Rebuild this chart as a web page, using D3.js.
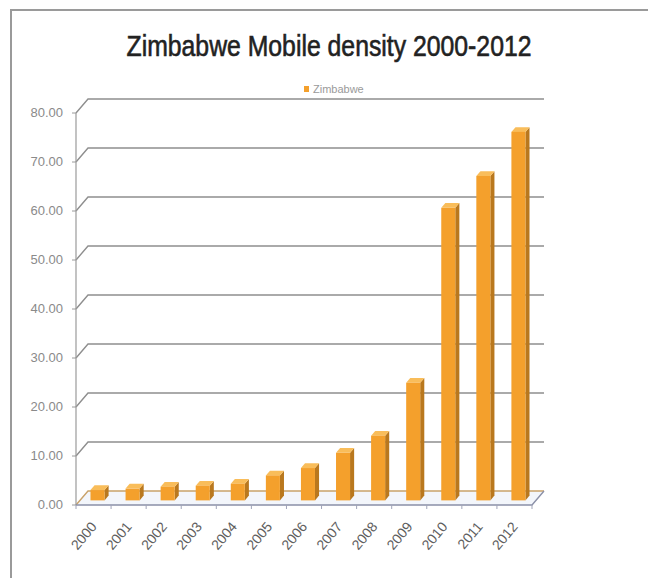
<!DOCTYPE html>
<html>
<head>
<meta charset="utf-8">
<script src="https://cdn.jsdelivr.net/npm/d3@7/dist/d3.min.js"></script>
<style>
  html, body { margin: 0; padding: 0; background: #fff; }
  svg { display: block; }
</style>
</head>
<body>
<svg id="chart" width="648" height="578"></svg>
<script>
// ---- data ----
const years = ["2000","2001","2002","2003","2004","2005","2006","2007","2008","2009","2010","2011","2012"];
const density = [2.1, 2.4, 2.8, 3.0, 3.4, 5.1, 6.6, 9.7, 13.2, 24.0, 59.7, 66.2, 75.2];
const yTicks = [0, 10, 20, 30, 40, 50, 60, 70, 80];
const seriesName = "Zimbabwe";
const titleText = "Zimbabwe Mobile density 2000-2012";

const svg = d3.select("#chart");

// frame
svg.append("path")
  .attr("d", "M11,578 L11,10 L648,10")
  .attr("fill", "none").attr("stroke", "#9a9a9a").attr("stroke-width", 2);

// 3D geometry
const DX = 12, DY = -14;      // depth offset (front -> back)
const f1 = 0.33, f2 = 0.67;   // bar depth span

const x = d3.scaleBand().domain(years).range([76, 532]).paddingInner(0.6).paddingOuter(0.3);
const y = d3.scaleLinear().domain([0, 80]).range([505, 113]);
const xL = 76, xR = 532;

// floor
svg.append("path")
  .attr("d", `M${xL},${y(0)} L${xR},${y(0)} L${xR+DX},${y(0)+DY} L${xL+DX},${y(0)+DY} Z`)
  .attr("fill", "#f3f6fb").attr("stroke", "none");

// gridlines (back wall) with diagonal on left wall
const grid = svg.append("g");
yTicks.forEach(t => {
  grid.append("path")
    .attr("d", `M${xL},${y(t)} L${xL+DX},${y(t)+DY} L${xR+DX},${y(t)+DY}`)
    .attr("fill", "none")
    .attr("stroke", t === 0 ? "#c9a26a" : "#8e8e8e")
    .attr("stroke-width", 1.4);
});

// left axis front edge
svg.append("line")
  .attr("x1", xL).attr("x2", xL).attr("y1", y(80)).attr("y2", y(0))
  .attr("stroke", "#9a9a9a").attr("stroke-width", 1.2);

// y ticks and labels
const yAxis = svg.append("g");
yTicks.forEach(t => {
  yAxis.append("line")
    .attr("x1", xL - 4).attr("x2", xL).attr("y1", y(t)).attr("y2", y(t))
    .attr("stroke", "#9a9a9a").attr("stroke-width", 1);
  yAxis.append("text")
    .attr("x", 63).attr("y", y(t) + 4)
    .attr("text-anchor", "end")
    .attr("font-family", "'Liberation Sans Narrow', 'Liberation Sans', Arial, sans-serif")
    .attr("font-size", 13)
    .attr("fill", "#8a8a8a")
    .text(d3.format(".2f")(t));
});

// bars
const cFront = "#f4a02c", cSide = "#b9781e", cTop = "#f9bd5a";
const bars = svg.append("g");
years.forEach((yr, i) => {
  const v = density[i];
  const x0 = x(yr), w = x.bandwidth();
  const ax = f1 * DX, ay = f1 * DY;   // front face offset
  const bx = f2 * DX, by = f2 * DY;   // back face offset
  const yt = y(v), yb = y(0);
  bars.append("path")
    .attr("d", `M${x0+w+ax},${yt+ay} L${x0+w+bx},${yt+by} L${x0+w+bx},${yb+by} L${x0+w+ax},${yb+ay} Z`)
    .attr("fill", cSide);
  bars.append("path")
    .attr("d", `M${x0+ax},${yt+ay} L${x0+w+ax},${yt+ay} L${x0+w+bx},${yt+by} L${x0+bx},${yt+by} Z`)
    .attr("fill", cTop);
  bars.append("rect")
    .attr("x", x0 + ax).attr("y", yt + ay)
    .attr("width", w).attr("height", yb - yt)
    .attr("fill", cFront);
});

// floor front edge and right edge
svg.append("path")
  .attr("d", `M${xL},${y(0)} L${xR},${y(0)} L${xR+DX},${y(0)+DY}`)
  .attr("fill", "none").attr("stroke", "#8b90a8").attr("stroke-width", 1.4);

// x ticks at category boundaries
const step = x.step();
d3.range(years.length + 1).forEach(k => {
  const xx = xL + k * step;
  svg.append("line")
    .attr("x1", xx).attr("x2", xx).attr("y1", y(0)).attr("y2", y(0) + 4)
    .attr("stroke", "#a0a4b8").attr("stroke-width", 1);
});

// x labels
years.forEach(yr => {
  const cx = x(yr) + x.bandwidth() / 2;
  svg.append("text")
    .attr("transform", `translate(${cx + 4},${y(0) + 22}) rotate(-50)`)
    .attr("text-anchor", "end")
    .attr("font-family", "'Liberation Sans', Arial, sans-serif")
    .attr("font-size", 14)
    .attr("fill", "#5e5e5e")
    .text(yr);
});

// title
const title = svg.append("text")
  .attr("x", 329).attr("y", 56)
  .attr("text-anchor", "middle")
  .attr("font-family", "'Liberation Sans Narrow', 'Liberation Sans', Arial, sans-serif")
  .attr("font-size", 29)
  .attr("fill", "#222")
  .attr("stroke", "#222").attr("stroke-width", 0.6)
  .text(titleText);
const tl = title.node().getComputedTextLength();
if (Math.abs(tl - 405) > 6) title.attr("textLength", 405).attr("lengthAdjust", "spacingAndGlyphs");

// legend
svg.append("rect")
  .attr("x", 304).attr("y", 86).attr("width", 5).attr("height", 6)
  .attr("fill", cFront);
svg.append("text")
  .attr("x", 313).attr("y", 93)
  .attr("font-family", "'Liberation Sans', Arial, sans-serif")
  .attr("font-size", 11)
  .attr("fill", "#9a9a9a")
  .text(seriesName);
</script>
</body>
</html>
